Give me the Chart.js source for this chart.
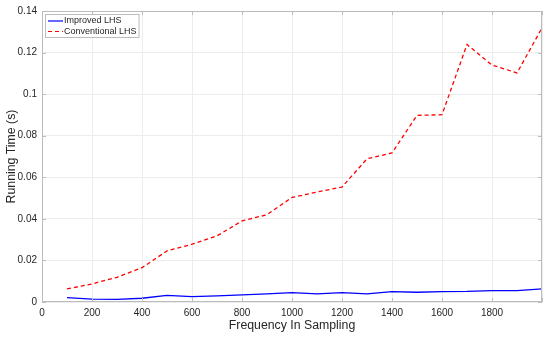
<!DOCTYPE html>
<html>
<head>
<meta charset="utf-8">
<script src="https://cdn.jsdelivr.net/npm/chart.js@4"></script>
<style>
  html, body { margin: 0; padding: 0; background: #fff; }
  #wrap { width: 550px; height: 337px; }
</style>
</head>
<body>
<div id="wrap"><canvas id="grafico"></canvas></div>
<script>
// frecuencias de muestreo
const frecuencias = [100, 200, 300, 400, 500, 600, 700, 800, 900, 1000,
                     1100, 1200, 1300, 1400, 1500, 1600, 1700, 1800, 1900, 2000];
const tiempoMejorado = [0.0021, 0.0014, 0.0013, 0.0018, 0.0032, 0.0026, 0.0029, 0.0034, 0.0039, 0.0045,
                        0.0039, 0.0045, 0.0039, 0.0050, 0.0047, 0.0050, 0.0051, 0.0055, 0.0055, 0.0063];
const tiempoConvencional = [0.0063, 0.0087, 0.0119, 0.0165, 0.0246, 0.0278, 0.0318, 0.0390, 0.0420, 0.0503,
                            0.0529, 0.0553, 0.0689, 0.0717, 0.0898, 0.0901, 0.1239, 0.1140, 0.1102, 0.1319];
const ticksY = [0, 0.02, 0.04, 0.06, 0.08, 0.1, 0.12, 0.14];

const texto = '#262626';
const fuente = "'Liberation Sans', Arial, Helvetica, sans-serif";

function puntos(ys) {
    return frecuencias.map((x, i) => ({ x: x, y: ys[i] }));
}

// caja, marcas hacia dentro y leyenda dentro del área
const marco = {
    id: 'marco',
    afterDraw(chart) {
        const c = chart.ctx;
        const a = chart.chartArea;
        const sx = chart.scales.x, sy = chart.scales.y;
        c.save();
        c.strokeStyle = '#bcbcbc';
        c.lineWidth = 1;
        c.strokeRect(a.left + 0.5, a.top + 0.5, a.right - a.left - 1, a.bottom - a.top - 1);
        c.beginPath();
        sx.ticks.forEach(t => {
            const px = Math.round(sx.getPixelForValue(t.value)) + 0.5;
            c.moveTo(px, a.bottom); c.lineTo(px, a.bottom - 4);
            c.moveTo(px, a.top); c.lineTo(px, a.top + 4);
        });
        sy.ticks.forEach(t => {
            const py = Math.round(sy.getPixelForValue(t.value)) + 0.5;
            c.moveTo(a.left, py); c.lineTo(a.left + 4, py);
            c.moveTo(a.right, py); c.lineTo(a.right - 4, py);
        });
        c.stroke();

        // leyenda
        const x0 = a.left + 3, y0 = a.top + 3;
        c.font = '9px ' + fuente;
        const anchos = chart.data.datasets.map(d => c.measureText(d.label).width);
        const w = 20 + Math.max(...anchos) + 1;
        const h = 23;
        c.fillStyle = '#fff';
        c.fillRect(x0, y0, w, h);
        c.strokeStyle = '#bcbcbc';
        c.strokeRect(x0 + 0.5, y0 + 0.5, w, h);
        chart.data.datasets.forEach((d, i) => {
            const y = y0 + 7 + i * 10.5;
            c.strokeStyle = d.borderColor;
            c.lineWidth = 1.2;
            c.setLineDash(d.borderDash || []);
            c.beginPath();
            c.moveTo(x0 + 3, y); c.lineTo(x0 + 18, y);
            c.stroke();
            c.setLineDash([]);
            c.fillStyle = texto;
            c.textBaseline = 'middle';
            c.fillText(d.label, x0 + 19, y);
        });
        c.restore();
    }
};

new Chart(document.getElementById('grafico'), {
    type: 'line',
    data: {
        datasets: [
            {
                label: 'Improved LHS',
                data: puntos(tiempoMejorado),
                borderColor: '#0000ff',
                borderWidth: 1.3,
                pointRadius: 0,
                tension: 0
            },
            {
                label: 'Conventional LHS',
                data: puntos(tiempoConvencional),
                borderColor: '#ff0000',
                borderWidth: 1.3,
                borderDash: [4, 3],
                pointRadius: 0,
                tension: 0
            }
        ]
    },
    options: {
        responsive: true,
        maintainAspectRatio: false,
        animation: false,
        layout: { padding: { left: 0, top: 11, right: 8, bottom: 0 } },
        plugins: {
            legend: { display: false },
            tooltip: { enabled: false }
        },
        scales: {
            x: {
                type: 'linear',
                min: 0,
                max: 2000,
                afterFit(s) { s.height = 35; },
                ticks: {
                    stepSize: 200,
                    color: texto,
                    font: { family: fuente, size: 10 },
                    padding: 5,
                    maxRotation: 0,
                    callback: v => v === 2000 ? '' : String(v)
                },
                grid: { color: '#ececec', drawTicks: false },
                border: { display: false },
                title: {
                    display: true,
                    text: 'Frequency In Sampling',
                    color: texto,
                    font: { family: fuente, size: 12.3 },
                    padding: { top: 0, bottom: 4 }
                }
            },
            y: {
                min: 0,
                max: 0.14,
                afterFit(s) { s.width = 42; },
                afterBuildTicks(s) { s.ticks = ticksY.map(v => ({ value: v })); },
                ticks: {
                    color: texto,
                    font: { family: fuente, size: 10 },
                    padding: 5,
                    callback: v => String(Number(v.toFixed(2)))
                },
                grid: { color: '#ececec', drawTicks: false },
                border: { display: false },
                title: {
                    display: true,
                    text: 'Running Time (s)',
                    color: texto,
                    font: { family: fuente, size: 12.3 },
                    padding: { top: 4, bottom: 0 }
                }
            }
        }
    },
    plugins: [marco]
});
</script>
</body>
</html>
